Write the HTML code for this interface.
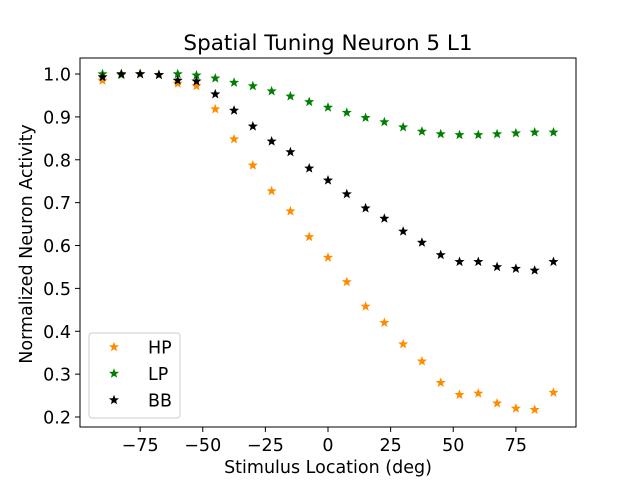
<!DOCTYPE html>
<html><head><meta charset="utf-8"><style>body{margin:0;background:#fff}svg{font-family:"DejaVu Sans","Liberation Sans",sans-serif}</style></head>
<body>
<svg id="chart" width="640" height="480">
<rect x="0" y="0" width="640" height="480" fill="#fff"/>
<text x="328" y="50" font-size="21.5" text-anchor="middle">Spatial Tuning Neuron 5 L1</text>
<g id="ticks"></g>
<g id="marks"></g>
<rect x="80" y="58" width="496" height="369" fill="none" stroke="#000" stroke-width="1"/>
<text x="328" y="473" font-size="17.5" text-anchor="middle">Stimulus Location (deg)</text>
<text transform="translate(32,244) rotate(-90)" font-size="17.5" text-anchor="middle">Normalized Neuron Activity</text>
<g>
<rect x="89" y="333" width="91" height="85" rx="3" fill="#fff" fill-opacity="0.8" stroke="#ccc"/>
<g id="legend"></g>
</g>
</svg>
<script>
const xs = [-90,-82.5,-75,-67.5,-60,-52.5,-45,-37.5,-30,-22.5,-15,-7.5,0,7.5,15,22.5,30,37.5,45,52.5,60,67.5,75,82.5,90];
const hp = [0.985,1.0,1.0,0.998,0.978,0.972,0.918,0.848,0.787,0.727,0.680,0.620,0.572,0.515,0.458,0.420,0.370,0.330,0.280,0.252,0.255,0.232,0.220,0.217,0.257];
const lp = [1.0,0.998,1.0,0.998,1.0,0.997,0.990,0.980,0.972,0.960,0.948,0.935,0.922,0.910,0.898,0.888,0.876,0.866,0.860,0.858,0.858,0.860,0.862,0.864,0.864];
const bb = [0.993,1.0,1.0,0.998,0.985,0.983,0.953,0.915,0.878,0.843,0.818,0.780,0.752,0.720,0.687,0.663,0.633,0.607,0.578,0.562,0.562,0.550,0.546,0.542,0.562];
const xTicks = [-75,-50,-25,0,25,50,75];
const yTicks = [0.2,0.3,0.4,0.5,0.6,0.7,0.8,0.9,1.0];
const seriesNames = ["HP","LP","BB"];
const colors = ["#ff8c00","#008000","#000000"];

const NS="http://www.w3.org/2000/svg";
const xMin=-99,xMax=99,yMin=0.1767,yMax=1.0374;
function X(v){return 80+(v-xMin)/(xMax-xMin)*496;}
function Y(v){return 427-(v-yMin)/(yMax-yMin)*369;}
function star(cx,cy,r,color){
  const p=[];
  for(let i=0;i<10;i++){const a=-Math.PI/2+i*Math.PI/5;const rr=i%2?r*0.42:r;p.push((cx+rr*Math.cos(a)).toFixed(2)+","+(cy+rr*Math.sin(a)).toFixed(2));}
  const el=document.createElementNS(NS,"polygon");
  el.setAttribute("points",p.join(" "));
  el.setAttribute("fill",color);
  return el;
}
const ticks=document.getElementById("ticks");
xTicks.forEach(t=>{
  const l=document.createElementNS(NS,"line");
  
  
  l.setAttribute("x1",X(t));l.setAttribute("x2",X(t));l.setAttribute("y1",427);l.setAttribute("y2",432);l.setAttribute("stroke","#000");
  ticks.appendChild(l);
  const tx=document.createElementNS(NS,"text");
  
  
  tx.setAttribute("x",X(t));tx.setAttribute("y",451);tx.setAttribute("font-size","17.5");tx.setAttribute("text-anchor","middle");
  tx.textContent=t<0?"\u2212"+Math.abs(t):String(t);
  ticks.appendChild(tx);
});
yTicks.forEach(t=>{
  const l=document.createElementNS(NS,"line");
  
  
  l.setAttribute("x1",75);l.setAttribute("x2",80);l.setAttribute("y1",Y(t));l.setAttribute("y2",Y(t));l.setAttribute("stroke","#000");
  ticks.appendChild(l);
  const tx=document.createElementNS(NS,"text");
  
  
  tx.setAttribute("x",71);tx.setAttribute("y",Y(t)+6.5);tx.setAttribute("font-size","17.5");tx.setAttribute("text-anchor","end");
  tx.textContent=t.toFixed(1);
  ticks.appendChild(tx);
});
const marks=document.getElementById("marks");
[hp,lp,bb].forEach((s,si)=>{
  const g=document.createElementNS(NS,"g");
  
  
  s.forEach((v,i)=>{
    const st=star(X(xs[i]),Y(v),5.3,colors[si]);
    
    
    g.appendChild(st);
  });
  marks.appendChild(g);
});
const leg=document.getElementById("legend");
seriesNames.forEach((n,i)=>{
  const y=347+i*26.5;
  const g=document.createElementNS(NS,"g");
  
  
  g.appendChild(star(114,y,5.3,colors[i]));
  const tx=document.createElementNS(NS,"text");
  tx.setAttribute("x",148);tx.setAttribute("y",y+6.5);tx.setAttribute("font-size","17.5");
  tx.textContent=n;
  g.appendChild(tx);
  leg.appendChild(g);
});
</script>
</body></html>
